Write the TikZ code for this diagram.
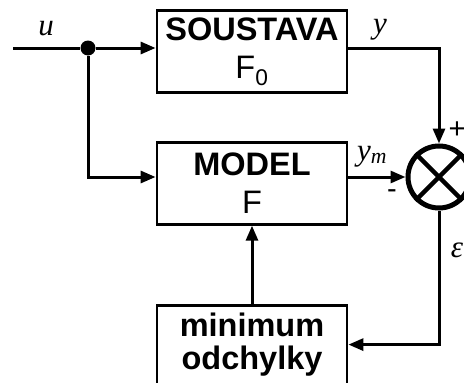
\documentclass[tikz,border=0pt]{standalone}
\usepackage{fontspec}
\setmainfont{Liberation Sans}
\newfontfamily\lblfont{Liberation Serif}
\usetikzlibrary{arrows.meta,positioning}

\begin{document}
\begin{tikzpicture}[x=1pt,y=-1pt,
    block/.style={rectangle,draw,line width=2.8pt,minimum width=190pt,minimum height=82pt,
      font=\fontsize{32.5}{38}\selectfont,align=center,inner sep=0pt},
    sig/.style={line width=3pt},
    arr/.style={sig,-{Triangle[length=15pt,width=12pt]}},
    lbl/.style={font=\fontsize{31}{31}\selectfont\lblfont\itshape,anchor=base,inner sep=0pt},
    sgn/.style={font=\fontsize{29}{29}\selectfont,inner sep=0pt}]
  \useasboundingbox (0,0) rectangle (464,383);

  \node[block] (plant) at (252,51.5) {\textbf{SOUSTAVA}\\F\textsubscript{0}};
  \node[block,below=47pt of plant] (model) {\textbf{MODEL}\\F};
  \node[block,below=78pt of model,minimum height=79pt,font=\fontsize{32.5}{33}\selectfont\bfseries] (minodch) {minimum\\odchylky};
  \node[circle,draw,line width=5pt,minimum size=62pt,inner sep=0pt] (sum) at (439,177) {};
  \draw[line width=4.5pt] (sum.north west) -- (sum.south east);
  \draw[line width=4.5pt] (sum.north east) -- (sum.south west);

  \coordinate (in) at (13,48);
  \node[circle,fill,inner sep=0pt,minimum size=15pt] (branch) at (88,48) {};

  \draw[sig] (in) -- (branch);
  \draw[arr] (branch) -- (branch -| plant.west);
  \draw[arr] (branch) |- (model.west |- sum);
  \draw[arr] (plant.east |- branch) -| (sum.north);
  \draw[arr] (model.east |- sum) -- (sum.west);
  \draw[arr] (sum.south) |- (minodch.east);
  \draw[arr] (minodch.north) -- (model.south);

  % labels
  \node[lbl] (ulbl) at (46,35) {u};
  \node[lbl] (ylbl) at (380,33) {y};
  \node[lbl] (ymlbl) at (372,160) {y\textsubscript{m}};
  \node[lbl] (eps) at (457,257) {ε};
  \node[sgn] (plus) at (457,130) {+};
  \node[sgn] (minus) at (392,194) {-};
\end{tikzpicture}
\end{document}
